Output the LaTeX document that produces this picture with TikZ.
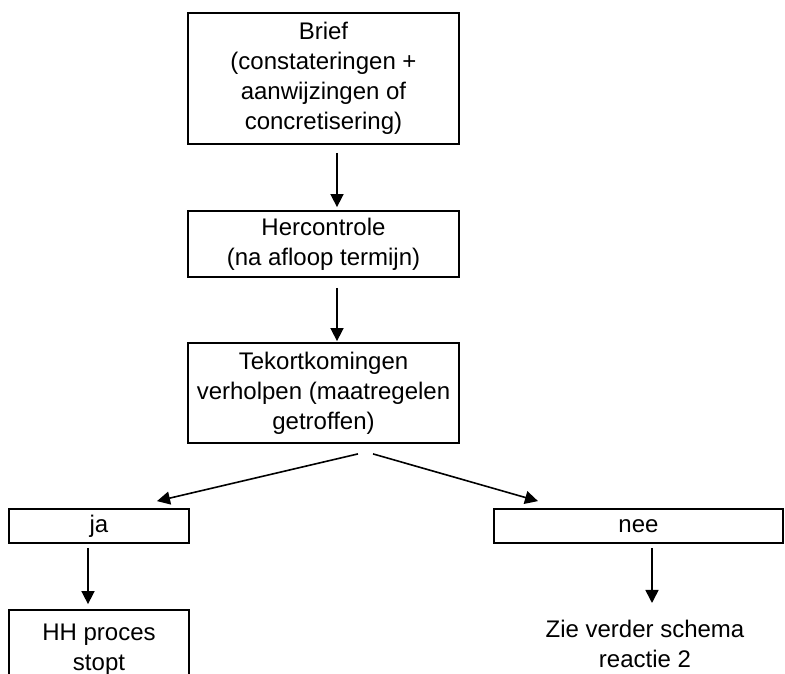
\documentclass[tikz,border=0pt]{standalone}
\usepackage{fontspec}
\setmainfont{Liberation Sans}
\usepackage{tikz}
\usetikzlibrary{arrows.meta,calc}

\begin{document}
\begin{tikzpicture}[x=1pt,y=1pt,yscale=-1,
  blok/.style={draw,line width=1.8pt,inner sep=0pt,align=center,font=\fontsize{24}{30}\selectfont},
  tekst/.style={inner sep=0pt,align=center,font=\fontsize{24}{30}\selectfont},
  pijl/.style={line width=1.6pt,-{Triangle[length=13pt,width=13pt]}}]
%set diagram left start at 0, and has height of 673
\clip (0,0) rectangle (785,673);

%Shape: Rectangle
\node [blok,minimum width=271,minimum height=131] (brief) at (323.5,78.5) {Brief\\(constateringen +\\aanwijzingen of\\concretisering)};
%Shape: Rectangle
\node [blok,minimum width=271,minimum height=66] (herc) at (323.5,244) {Hercontrole\\(na afloop termijn)};
%Shape: Rectangle
\node [blok,minimum width=271,minimum height=100] (tekort) at (323.5,393) {Tekortkomingen\\verholpen (maatregelen\\getroffen)};
%Shape: Rectangle
\node [blok,minimum width=180,minimum height=34] (ja) at (99,526) {ja};
%Shape: Rectangle
\node [blok,minimum width=289,minimum height=34] (nee) at (638.5,526) {nee};
%Shape: Rectangle
\node [blok,minimum width=180,minimum height=80] (hh) at (99,650) {HH proces\\stopt};
% Text Node
\node [tekst] (zie) at (645,644) {Zie verder schema\\reactie 2};

%Straight Lines
\draw [pijl] ($(brief.south)+(13.5,8)$) -- ($(herc.north)+(13.5,-3)$);
\draw [pijl] ($(herc.south)+(13.5,10)$) -- ($(tekort.north)+(13.5,-1)$);
\draw [pijl] ($(tekort.south)+(34.5,10)$) -- ($(ja.north)+(58,-7)$);
\draw [pijl] ($(tekort.south)+(49.5,10)$) -- ($(nee.north)+(-100.5,-7)$);
\draw [pijl] ($(ja.south)+(-11,4)$) -- ($(hh.north)+(-11,-5)$);
\draw [pijl] ($(nee.south)+(13.5,4)$) -- ($(zie.north)+(7,-17)$);

\end{tikzpicture}
\end{document}
